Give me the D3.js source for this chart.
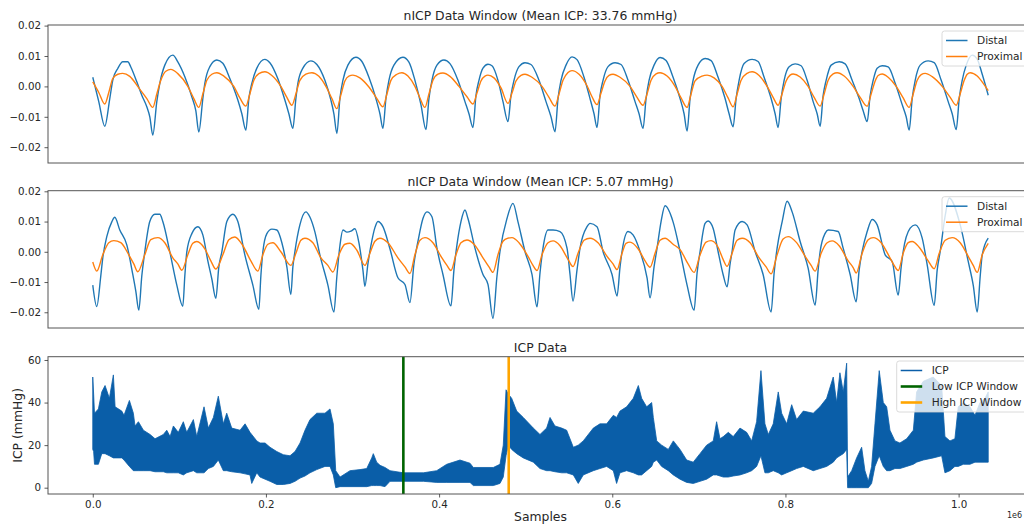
<!DOCTYPE html>
<html>
<head>
<meta charset="utf-8">
<script src="https://cdn.jsdelivr.net/npm/d3@7"></script>
<style>
  body { margin: 0; background: #fff; }
  svg { display: block; font-family: "DejaVu Sans", sans-serif; }
</style>
</head>
<body>
<svg id="chart" width="1024" height="524"></svg>
<script>
// nICP window with high mean ICP: [sample, amplitude]
const highDistal = [
  [0,0.0030],[6,-0.005],[12,-0.0131],
  [17,-0.004],[20,0.0021],[25,0.0059],[30,0.0081],[35,0.0081],[38,0.0064],[44,0.0015],[49,-0.0029],[54,-0.0067],[57,-0.0100],[60,-0.0160],
  [64,-0.005],[67,0.001],[72,0.007],[80,0.0103],[85,0.0081],[92,0.0032],[99,-0.0034],[103,-0.008],[106,-0.0150],
  [110,-0.004],[112,0.001],[117,0.0065],[124,0.0087],[130,0.0076],[137,0.0026],[145,-0.0045],[149,-0.009],[153,-0.0144],
  [156,-0.004],[159,0.001],[164,0.006],[172,0.0089],[177,0.0078],[185,0.0025],[192,-0.0045],[196,-0.009],[200,-0.0138],
  [203,-0.004],[205,0.001],[210,0.006],[218,0.0084],[224,0.0072],[232,0.002],[238,-0.0045],[241,-0.009],[244,-0.0155],
  [247,-0.004],[250,0.002],[255,0.007],[263,0.0096],[269,0.0082],[276,0.003],[283,-0.004],[287,-0.009],[290,-0.0138],
  [293,-0.004],[296,0.002],[301,0.007],[310,0.0096],[316,0.008],[322,0.002],[328,-0.006],[333,-0.0142],
  [336,-0.004],[339,0.002],[344,0.007],[351,0.0087],[357,0.0075],[365,0.002],[372,-0.005],[376,-0.009],[380,-0.0135],
  [383,-0.003],[386,0.002],[390,0.006],[395,0.0073],[399,0.0068],[405,0.002],[410,-0.005],[415,-0.0116],
  [418,-0.003],[421,0.002],[426,0.0065],[432,0.0078],[438,0.0072],[446,0.002],[453,-0.005],[458,-0.010],[462,-0.0149],
  [465,-0.004],[468,0.002],[473,0.007],[479,0.0097],[484,0.0088],[491,0.003],[497,-0.004],[501,-0.009],[504,-0.0135],
  [507,-0.003],[510,0.002],[515,0.0065],[522,0.0078],[528,0.0072],[535,0.002],[542,-0.005],[546,-0.009],[550,-0.0138],
  [553,-0.004],[556,0.002],[561,0.007],[567,0.0095],[573,0.0085],[580,0.003],[587,-0.004],[591,-0.009],[594,-0.0147],
  [597,-0.004],[600,0.002],[605,0.007],[612,0.0092],[618,0.0085],[625,0.003],[632,-0.004],[636,-0.009],[640,-0.0133],
  [643,-0.004],[646,0.002],[651,0.0075],[659,0.0089],[665,0.0082],[671,0.003],[678,-0.004],[682,-0.009],[685,-0.0135],
  [688,-0.004],[691,0.002],[696,0.0065],[702,0.0074],[708,0.0068],[714,0.002],[720,-0.005],[724,-0.009],[727,-0.0131],
  [730,-0.003],[733,0.002],[738,0.007],[746,0.0081],[752,0.0074],[759,0.002],[766,-0.004],[770,-0.008],[774,-0.0116],
  [777,-0.003],[780,0.002],[784,0.006],[789,0.0068],[795,0.0064],[802,0.001],[809,-0.006],[813,-0.010],[816,-0.0144],
  [819,-0.004],[822,0.002],[827,0.007],[835,0.0084],[841,0.0078],[848,0.002],[855,-0.005],[859,-0.009],[863,-0.0142],
  [866,-0.004],[869,0.002],[873,0.007],[879,0.0103],[884,0.0090],[889,0.004],[895,-0.0029]
];

const highProximal = [
  [0,0.0015],[6,-0.002],[12,-0.0058],[16,-0.002],[20,0.0026],[25,0.0040],[30,0.0043],[37,0.0033],[46,-0.0005],[54,-0.0040],[60,-0.0069],
  [64,-0.0025],[68,0.0020],[73,0.0050],[78,0.0056],[85,0.0042],[95,0.0000],[101,-0.0040],[106,-0.0069],
  [110,-0.0025],[114,0.0020],[119,0.0040],[124,0.0045],[131,0.0034],[141,0.0000],[147,-0.0038],[153,-0.0065],
  [157,-0.0025],[161,0.0020],[166,0.0042],[172,0.0048],[179,0.0036],[188,0.0000],[194,-0.0036],[199,-0.0062],
  [203,-0.0025],[207,0.0020],[213,0.0040],[219,0.0045],[226,0.0033],[233,0.0000],[239,-0.0040],[244,-0.0073],
  [248,-0.0028],[252,0.0018],[256,0.0034],[260,0.0037],[267,0.0028],[276,-0.0002],[284,-0.0040],[290,-0.0067],
  [294,-0.0025],[298,0.0020],[304,0.0040],[309,0.0045],[315,0.0034],[322,0.0000],[327,-0.0038],[332,-0.0069],
  [336,-0.0025],[340,0.0020],[345,0.0040],[350,0.0044],[357,0.0033],[366,0.0000],[374,-0.0034],[380,-0.0058],
  [384,-0.0022],[388,0.0018],[392,0.0034],[395,0.0037],[401,0.0028],[408,-0.0005],[415,-0.0056],
  [419,-0.0022],[423,0.0018],[428,0.0036],[432,0.0040],[439,0.0030],[449,0.0000],[456,-0.0036],[462,-0.0065],
  [466,-0.0025],[470,0.0020],[475,0.0046],[479,0.0052],[486,0.0040],[494,0.0002],[499,-0.0034],[504,-0.0060],
  [508,-0.0022],[512,0.0018],[516,0.0036],[520,0.0040],[527,0.0030],[537,0.0000],[544,-0.0036],[550,-0.0062],
  [554,-0.0025],[558,0.0020],[563,0.0041],[567,0.0045],[574,0.0034],[582,0.0000],[588,-0.0038],[594,-0.0069],
  [598,-0.0025],[602,0.0018],[609,0.0034],[614,0.0037],[621,0.0028],[629,0.0000],[635,-0.0038],[640,-0.0067],
  [644,-0.0025],[648,0.0020],[654,0.0043],[659,0.0048],[666,0.0036],[674,0.0000],[680,-0.0036],[685,-0.0062],
  [689,-0.0024],[693,0.0018],[697,0.0037],[700,0.0041],[707,0.0031],[715,0.0000],[721,-0.0036],[727,-0.0065],
  [731,-0.0025],[735,0.0020],[740,0.0041],[744,0.0045],[751,0.0034],[760,0.0000],[767,-0.0036],[774,-0.0065],
  [778,-0.0025],[782,0.0018],[785,0.0036],[789,0.0041],[795,0.0030],[803,0.0000],[810,-0.0038],[816,-0.0069],
  [820,-0.0025],[824,0.0020],[828,0.0039],[832,0.0043],[839,0.0032],[849,0.0000],[857,-0.0036],[863,-0.0062],
  [867,-0.0024],[871,0.0020],[874,0.0040],[877,0.0045],[884,0.0034],[890,0.0010],[895,-0.0014]
];

// nICP window with low mean ICP
const lowDistal = [
  [0,-0.0110],[4,-0.0181],[8,-0.0080],[10,-0.0020],[14,0.0050],[19,0.0099],[22,0.0114],[27,0.0072],[34,0.0023],[40,-0.0075],[43,-0.0130],[46,-0.0193],
  [49,-0.0080],[52,0.0000],[57,0.0100],[62,0.0124],[67,0.0124],[70,0.0100],[77,0.0000],[84,-0.0110],[90,-0.0180],
  [92,-0.0080],[94,0.0000],[99,0.0060],[105,0.0083],[110,0.0056],[115,-0.0030],[119,-0.0090],[123,-0.0154],
  [126,-0.0050],[129,0.0000],[134,0.0100],[140,0.0124],[145,0.0100],[152,-0.0010],[160,-0.0110],[166,-0.0190],
  [168,-0.0080],[170,0.0000],[174,0.0060],[179,0.0075],[184,0.0072],[189,0.0030],[194,-0.0050],[198,-0.0141],
  [200,-0.0050],[202,0.0000],[207,0.0089],[213,0.0132],[217,0.0115],[222,0.0066],[227,-0.0010],[235,-0.0110],[241,-0.0199],
  [244,-0.0080],[247,0.0020],[250,0.0072],[254,0.0065],[258,0.0068],[262,0.0076],[266,0.0030],[270,-0.0060],[272,-0.0114],
  [275,-0.0040],[278,0.0020],[282,0.0080],[285,0.0100],[290,0.0083],[297,0.0010],[305,-0.0086],[312,-0.0108],[317,-0.0168],
  [321,-0.0040],[325,0.0034],[330,0.0110],[334,0.0132],[339,0.0116],[344,0.0012],[350,-0.0075],[358,-0.0179],
  [361,-0.0060],[364,0.0023],[368,0.0100],[372,0.0138],[375,0.0110],[382,0.0012],[390,-0.0075],[395,-0.0108],[400,-0.0220],
  [404,-0.0080],[407,0.0001],[414,0.0110],[420,0.0160],[425,0.0099],[432,0.0001],[439,-0.0075],[444,-0.0182],
  [447,-0.0070],[450,0.0012],[455,0.0072],[460,0.0072],[467,0.0067],[474,0.0012],[477,-0.0075],[480,-0.0163],
  [484,-0.0060],[487,0.0012],[494,0.0083],[497,0.0094],[504,0.0083],[510,0.0001],[519,-0.0075],[524,-0.0146],
  [527,-0.0050],[529,0.0001],[535,0.0067],[540,0.0056],[547,0.0001],[554,-0.0086],[557,-0.0152],
  [561,-0.0050],[564,0.0012],[568,0.0100],[572,0.0152],[580,0.0099],[587,0.0001],[594,-0.0110],[601,-0.0193],
  [604,-0.0070],[607,0.0001],[612,0.0094],[615,0.0102],[620,0.0078],[625,0.0001],[630,-0.0075],[634,-0.0116],
  [637,-0.0040],[639,0.0001],[642,0.0072],[649,0.0100],[654,0.0089],[662,0.0001],[670,-0.0075],[678,-0.0199],
  [681,-0.0070],[684,0.0012],[689,0.0099],[694,0.0167],[699,0.0132],[707,0.0034],[715,-0.0054],[722,-0.0176],
  [725,-0.0060],[727,0.0001],[732,0.0061],[735,0.0072],[745,0.0067],[750,0.0012],[757,-0.0075],[763,-0.0165],
  [766,-0.0060],[769,0.0001],[774,0.0067],[779,0.0107],[784,0.0089],[792,-0.0010],[799,-0.0032],[805,-0.0143],
  [808,-0.0050],[810,0.0001],[817,0.0078],[822,0.0089],[829,0.0045],[834,-0.0043],[841,-0.0177],
  [844,-0.0060],[847,0.0001],[852,0.0120],[856,0.0178],[867,0.0089],[875,-0.0032],[880,-0.0110],[884,-0.0199],
  [887,-0.0080],[889,-0.0010],[895,0.0045]
];

const lowProximal = [
  [0,-0.0034],[4,-0.0064],[10,-0.0010],[16,0.0030],[21,0.0037],[28,0.0030],[36,-0.0010],[41,-0.0040],[45,-0.0066],
  [52,-0.0010],[58,0.0040],[65,0.0047],[72,0.0030],[80,-0.0020],[85,-0.0040],[89,-0.0061],
  [95,-0.0010],[100,0.0028],[104,0.0034],[112,0.0010],[118,-0.0030],[123,-0.0057],
  [130,-0.0010],[136,0.0040],[142,0.0049],[150,0.0020],[158,-0.0030],[165,-0.0064],
  [170,-0.0010],[175,0.0025],[180,0.0030],[188,0.0000],[198,-0.0045],
  [203,-0.0005],[208,0.0038],[212,0.0045],[220,0.0030],[228,-0.0020],[235,-0.0045],[240,-0.0067],
  [246,-0.0010],[252,0.0025],[257,0.0028],[264,0.0005],[272,-0.0045],
  [277,-0.0005],[282,0.0035],[287,0.0045],[295,0.0030],[305,-0.0020],[312,-0.0050],[317,-0.0072],
  [322,-0.0010],[327,0.0038],[332,0.0047],[340,0.0030],[348,-0.0015],[354,-0.0045],[358,-0.0062],
  [363,-0.0010],[368,0.0030],[374,0.0039],[381,0.0025],[390,-0.0020],[396,-0.0050],[400,-0.0068],
  [405,-0.0010],[410,0.0035],[415,0.0045],[419,0.0047],[426,0.0030],[435,-0.0015],[440,-0.0045],[444,-0.0062],
  [449,-0.0010],[455,0.0030],[460,0.0036],[467,0.0020],[475,-0.0025],[480,-0.0049],
  [485,-0.0005],[491,0.0038],[497,0.0045],[505,0.0030],[514,-0.0015],[520,-0.0040],[524,-0.0059],
  [529,-0.0005],[533,0.0028],[537,0.0032],[545,0.0010],[552,-0.0030],[557,-0.0051],
  [562,-0.0005],[567,0.0038],[572,0.0045],[580,0.0025],[587,0.0007],[595,-0.0040],[601,-0.0068],
  [607,-0.0010],[613,0.0032],[618,0.0037],[625,0.0015],[630,-0.0025],[634,-0.0048],
  [639,-0.0005],[644,0.0038],[649,0.0045],[657,0.0030],[665,-0.0015],[673,-0.0050],[678,-0.0073],
  [684,-0.0010],[690,0.0042],[695,0.0050],[703,0.0032],[712,-0.0015],[718,-0.0045],[722,-0.0064],
  [728,-0.0005],[734,0.0030],[739,0.0036],[746,0.0020],[755,-0.0030],[760,-0.0052],[763,-0.0070],
  [769,-0.0005],[775,0.0040],[780,0.0047],[788,0.0030],[796,-0.0015],[801,-0.0045],[805,-0.0062],
  [810,-0.0005],[815,0.0030],[819,0.0034],[826,0.0015],[835,-0.0030],[841,-0.0056],
  [846,-0.0005],[852,0.0038],[859,0.0047],[867,0.0030],[875,-0.0015],[880,-0.0045],[884,-0.0068],
  [889,-0.0010],[895,0.0028]
];

// full ICP recording, envelope of the dense trace: [sample, upper mmHg, lower mmHg]
const icpEnvelope = [
  [0,52,18],[1000,44,17],[2000,35,11],[6500,37,11],[10400,45,16],[14200,48,16],[19200,42,15],
  [23800,53,14],[25800,38,14],[33500,36,14],[36100,34,13],[42300,41,10],[46900,35,8],[48800,29,8],
  [52700,31,8],[58500,27,8],[66200,25,8],[71900,23,7.5],[81500,25,7.5],[85500,27,7],[89300,24,7],
  [93100,29,7],[98800,26,7],[104600,31,6],[108500,26,7],[116200,32,8],[120100,24,7],[128500,38,7],
  [133500,28,9],[139300,33,10],[145000,43,13],[150800,30,8],[154700,35,8],[160500,28,7.5],[170100,27,7],
  [175900,30,6.5],[181600,26,6],[183600,25,2],[189400,22,7],[193200,21,5],[199000,21,4],[204700,19,3],
  [212500,17,1.5],[220100,15.5,1.5],[227800,15,2],[233600,17,3],[239400,21,4.5],[245100,27,5.5],
  [250900,32,7],[258700,35,8.5],[268200,35,10],[274000,37,10],[277800,30,6],[280600,8,0],[285600,5,0.5],
  [297100,8,0.5],[308700,8.5,0.5],[316400,9,0.5],[322200,14,1],[324000,16,1],[327900,12,1],[331800,10.5,1],
  [337500,9.5,0.5],[343300,8,3],[358700,7,3],[381800,7,3],[397200,8,2.5],[408800,11,2.5],[424100,13,2.5],
  [435700,11.5,2.5],[439500,9.5,1],[462600,9.5,1],[470300,11,2],[474100,20,5],[477300,46,15],[479900,44,20],
  [483800,42,18],[489600,36,16],[497200,33,14],[508800,28,12],[516500,25,9],[524200,28,8],[528100,33,8],
  [533800,29,7.5],[541600,28,7],[547300,27,7],[555000,19,6],[560700,20,2],[566500,22,6],[578100,28,8],
  [585800,30,9],[593500,30,10],[601200,34,8],[605000,33,2],[608900,36,7],[616600,38,8],[624300,42,7],
  [630100,48,6],[633900,42,6],[639700,38,8],[645500,40,10],[647400,33,12],[651300,22,13],[657000,20,10],
  [664700,18,8],[670500,22,6],[678200,18,4],[685900,13,2.5],[693500,12,2],[701300,16,3],[709000,20,4],
  [716600,22,6],[720500,31,6],[724400,23,5.5],[728200,24,5],[734000,26,5],[739700,24,5.5],[747500,28,6],
  [755200,26,7],[761000,22,8],[766700,31,10],[771700,55,15],[776300,30,7],[780200,25,7],[785900,30,8],
  [791700,45,7],[795600,35,6],[801400,30,7],[807200,39,8],[812900,32,9],[820600,36,10],[832100,35,8],
  [839900,38,9],[847600,42,10],[855200,52,12],[859100,40,14],[862900,54,15],[866800,45,16],[870700,58.5,18],
  [871800,5,0],[876500,8,0],[882200,14,0],[888000,19,0],[891800,8,0],[895700,3,0],[899500,10,2],
  [903400,30,10],[908300,55,15],[913000,40,10],[916900,38,8],[920700,27,8],[926500,22,9],[932200,21,9],
  [940000,23,10],[947700,27,11],[951500,45,12],[959200,50,13],[970700,52,14],[980400,48,15],[984200,24,7],
  [990000,22,8],[995700,23,10],[999600,38,10],[1005400,40,11],[1013100,38,11],[1018900,34,12],
  [1024700,40,12],[1030400,42,12],[1034200,45,12]
];

const lowWindowSample = 358700;
const highWindowSample = 480400;

const waveTicks = [-0.02, -0.01, 0, 0.01, 0.02];
const icpTicks = [0, 20, 40, 60];
const sampleTicks = [0, 200000, 400000, 600000, 800000, 1000000];

const chart = d3.select("#chart");
chart.append("rect").attr("width", 1024).attr("height", 524).attr("fill", "#fff");

const left = 48;
const right = 1033;
const textColor = "#262626";

function styleAxis(g) {
  g.select(".domain").remove();
  g.selectAll(".tick line").attr("stroke", "#333").attr("stroke-width", 0.8);
  g.selectAll(".tick text")
    .attr("fill", textColor)
    .style("font-size", "10.3px")
    .style("font-family", "DejaVu Sans");
}

function drawLegend(x0, y0, w, items) {
  const h = 19 + (items.length - 1) * 16;
  const lg = chart.append("g");
  lg.append("rect")
    .attr("x", x0)
    .attr("y", y0)
    .attr("width", w)
    .attr("height", h)
    .attr("rx", 2.5)
    .attr("fill", "rgba(255,255,255,0.8)")
    .attr("stroke", "#d0d0d0")
    .attr("stroke-width", 0.8);
  items.forEach((it, i) => {
    const cy = y0 + 9.5 + i * 16;
    lg.append("line")
      .attr("x1", x0 + 4)
      .attr("x2", x0 + 25.5)
      .attr("y1", cy)
      .attr("y2", cy)
      .attr("stroke", it.color)
      .attr("stroke-width", it.width);
    lg.append("text")
      .attr("x", x0 + 35)
      .attr("y", cy)
      .attr("dy", "0.36em")
      .attr("fill", textColor)
      .style("font-size", "10.6px")
      .text(it.label);
  });
}

function drawWave(top, bottom, title, distal, proximal) {
  const xScale = d3.scaleLinear().domain([-44.75, 939.75]).range([left, right]);
  const yScale = d3.scaleLinear().domain([-0.0252, 0.0202]).range([bottom, top]);

  const yAxis = d3
    .axisLeft(yScale)
    .tickValues(waveTicks)
    .tickFormat(d3.format(".2f"))
    .tickSize(3.5)
    .tickPadding(3.5);

  const line = d3
    .line()
    .x((d) => xScale(d[0]))
    .y((d) => yScale(d[1]))
    .curve(d3.curveMonotoneX);

  chart
    .append("path")
    .datum(distal)
    .attr("d", line)
    .attr("fill", "none")
    .attr("stroke", "#1f77b4")
    .attr("stroke-width", 1.4)
    .attr("stroke-linejoin", "round");

  chart
    .append("path")
    .datum(proximal)
    .attr("d", line)
    .attr("fill", "none")
    .attr("stroke", "#ff7f0e")
    .attr("stroke-width", 1.4)
    .attr("stroke-linejoin", "round");

  chart
    .append("rect")
    .attr("x", left)
    .attr("y", top)
    .attr("width", right - left)
    .attr("height", bottom - top)
    .attr("fill", "none")
    .attr("stroke", "#555")
    .attr("stroke-width", 1);

  chart.append("g").attr("transform", `translate(${left},0)`).call(yAxis).call(styleAxis);

  chart
    .append("text")
    .attr("x", (left + right) / 2)
    .attr("y", top - 5)
    .attr("text-anchor", "middle")
    .attr("fill", textColor)
    .style("font-size", "12.4px")
    .text(title);

  drawLegend(942, top + 6, 86, [
    { label: "Distal", color: "#1f77b4", width: 1.5 },
    { label: "Proximal", color: "#ff7f0e", width: 1.5 },
  ]);
}

drawWave(25, 163, "nICP Data Window (Mean ICP: 33.76 mmHg)", highDistal, highProximal);
drawWave(190.7, 328, "nICP Data Window (Mean ICP: 5.07 mmHg)", lowDistal, lowProximal);

// ICP panel
const icpTop = 356.7;
const icpBottom = 494;
const icpColor = "#0a5ea8";

const xIcp = d3.scaleLinear().domain([-51700, 1085900]).range([left, right]);
const yIcp = d3.scaleLinear().domain([-2.96, 61.55]).range([icpBottom, icpTop]);

const area = d3
  .area()
  .x((d) => xIcp(d[0]))
  .y0((d) => yIcp(d[2]))
  .y1((d) => yIcp(d[1]));

chart
  .append("path")
  .datum(icpEnvelope)
  .attr("d", area)
  .attr("fill", icpColor)
  .attr("stroke", icpColor)
  .attr("stroke-width", 0.8);

chart
  .append("line")
  .attr("x1", xIcp(lowWindowSample))
  .attr("x2", xIcp(lowWindowSample))
  .attr("y1", icpTop)
  .attr("y2", icpBottom)
  .attr("stroke", "#006400")
  .attr("stroke-width", 2.6);

chart
  .append("line")
  .attr("x1", xIcp(highWindowSample))
  .attr("x2", xIcp(highWindowSample))
  .attr("y1", icpTop)
  .attr("y2", icpBottom)
  .attr("stroke", "#ffa500")
  .attr("stroke-width", 2.6);

chart
  .append("rect")
  .attr("x", left)
  .attr("y", icpTop)
  .attr("width", right - left)
  .attr("height", icpBottom - icpTop)
  .attr("fill", "none")
  .attr("stroke", "#555")
  .attr("stroke-width", 1);

const xAxis = d3
  .axisBottom(xIcp)
  .tickValues(sampleTicks)
  .tickFormat((d) => (d / 1e6).toFixed(1))
  .tickSize(3.5)
  .tickPadding(3.5);
const yAxis = d3.axisLeft(yIcp).tickValues(icpTicks).tickSize(3.5).tickPadding(3.5);

chart.append("g").attr("transform", `translate(0,${icpBottom})`).call(xAxis).call(styleAxis);
chart.append("g").attr("transform", `translate(${left},0)`).call(yAxis).call(styleAxis);

chart
  .append("text")
  .attr("x", (left + right) / 2)
  .attr("y", icpTop - 5)
  .attr("text-anchor", "middle")
  .attr("fill", textColor)
  .style("font-size", "12.4px")
  .text("ICP Data");

chart
  .append("text")
  .attr("x", (left + right) / 2)
  .attr("y", 521)
  .attr("text-anchor", "middle")
  .attr("fill", textColor)
  .style("font-size", "12.4px")
  .text("Samples");

chart
  .append("text")
  .attr("transform", `translate(21.8,${(icpTop + icpBottom) / 2}) rotate(-90)`)
  .attr("text-anchor", "middle")
  .attr("fill", textColor)
  .style("font-size", "12.4px")
  .text("ICP (mmHg)");

// offset label of the sample axis, kept inside the frame
chart
  .append("text")
  .attr("x", 1022)
  .attr("y", 518)
  .attr("text-anchor", "end")
  .attr("fill", textColor)
  .style("font-size", "8px")
  .text("1e6");

drawLegend(896.7, 361, 131.3, [
  { label: "ICP", color: icpColor, width: 1.5 },
  { label: "Low ICP Window", color: "#006400", width: 2.6 },
  { label: "High ICP Window", color: "#ffa500", width: 2.6 },
]);
</script>
</body>
</html>
